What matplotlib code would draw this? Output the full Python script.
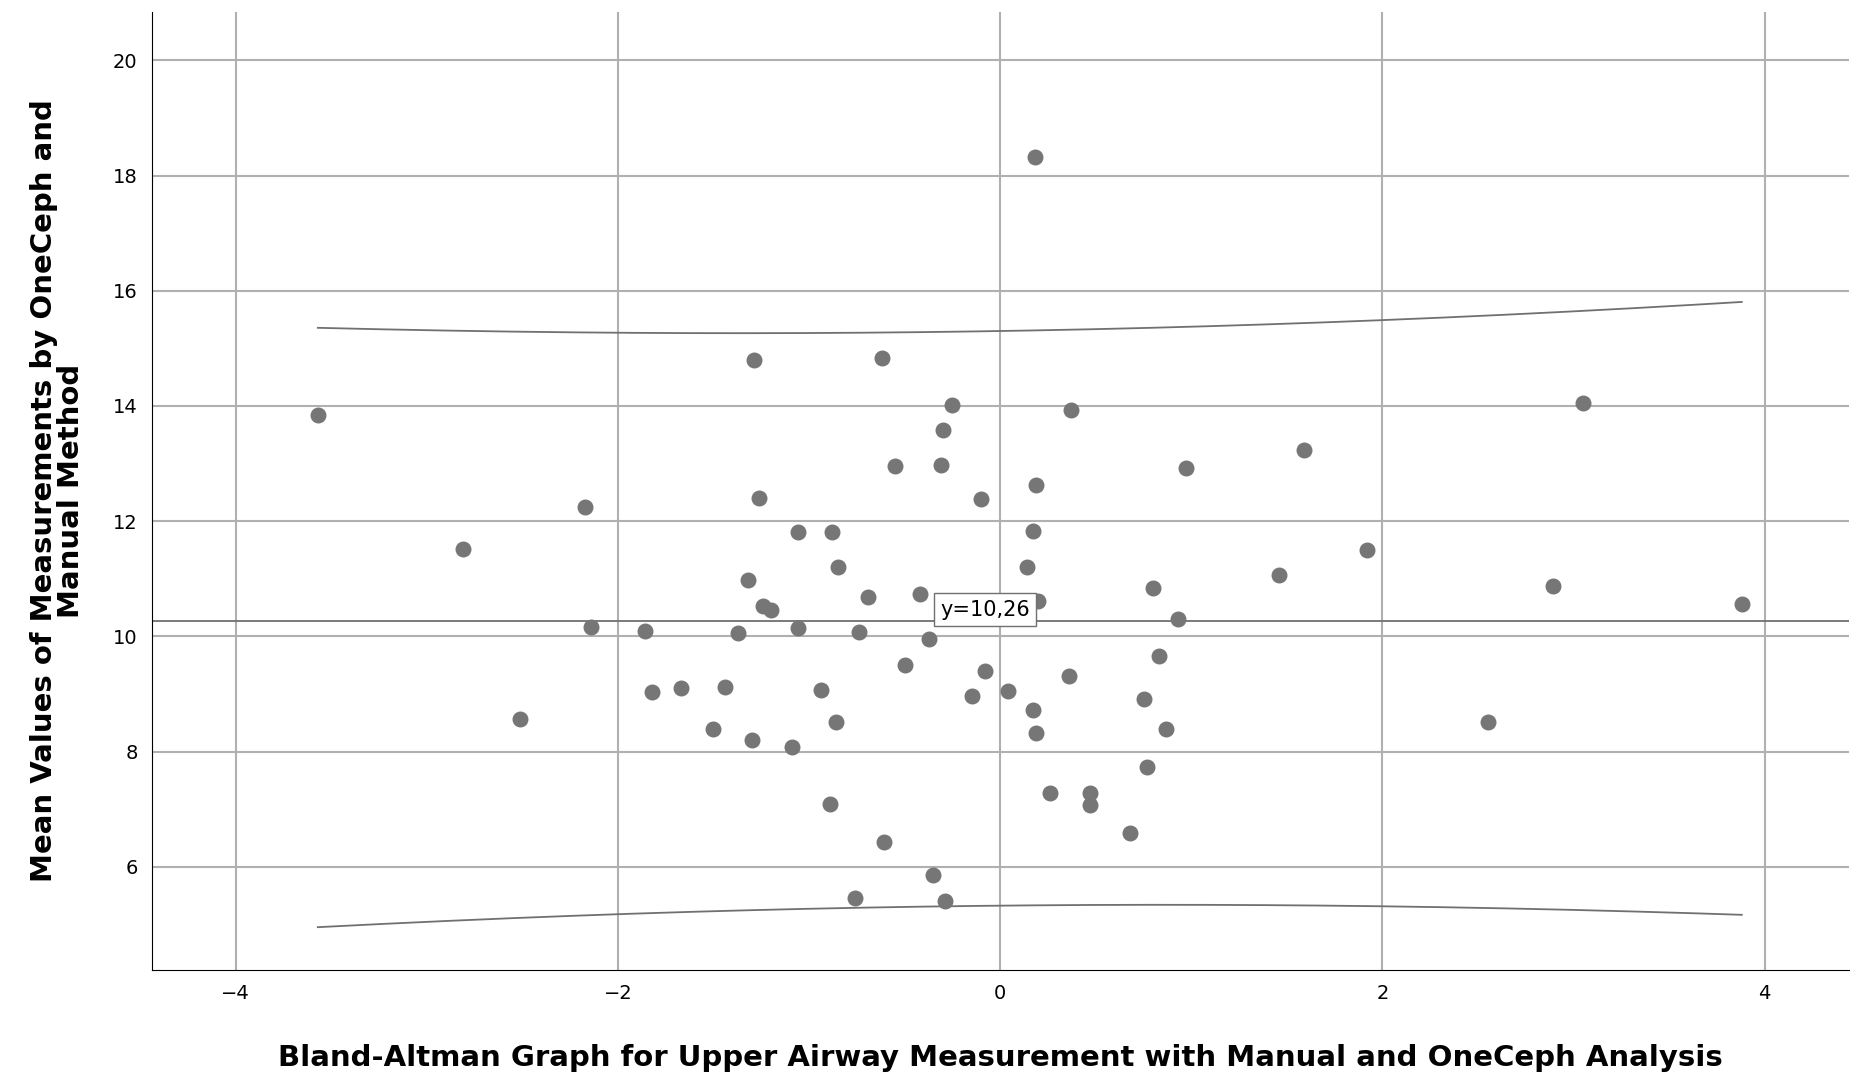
import numpy as np
import matplotlib.pyplot as plt

diff = [-3.57, -2.81, -2.51, -2.17, -2.14, -1.86, -1.82, -1.67, -1.50, -1.44,
        -1.37, -1.32, -1.30, -1.29, -1.26, -1.24, -1.20, -1.09, -1.06, -1.06,
        -0.94, -0.89, -0.88, -0.86, -0.85, -0.76, -0.74, -0.69, -0.62, -0.61,
        -0.55, -0.50, -0.42, -0.37, -0.35, -0.31, -0.30, -0.29, -0.25, -0.15,
        -0.10, -0.08, 0.04, 0.14, 0.17, 0.17, 0.18, 0.19, 0.19, 0.20,
        0.26, 0.36, 0.37, 0.47, 0.47, 0.68, 0.75, 0.77, 0.80, 0.83,
        0.87, 0.93, 0.97, 1.46, 1.59, 1.92, 2.55, 2.89, 3.05, 3.88]
mean = [13.84, 11.52, 8.57, 12.24, 10.16, 10.10, 9.03, 9.11, 8.39, 9.13,
        10.06, 10.98, 8.20, 14.79, 12.40, 10.53, 10.45, 8.08, 11.81, 10.14,
        9.07, 7.09, 11.81, 8.51, 11.21, 5.46, 10.08, 10.69, 14.83, 6.43,
        12.96, 9.50, 10.73, 9.95, 5.86, 12.98, 13.58, 5.40, 14.01, 8.96,
        12.38, 9.40, 9.05, 11.21, 11.83, 8.72, 18.33, 12.63, 8.33, 10.61,
        7.28, 9.31, 13.93, 7.28, 7.07, 6.58, 8.92, 7.73, 10.84, 9.66,
        8.39, 10.30, 12.92, 11.06, 13.23, 11.50, 8.51, 10.88, 14.05, 10.57]
mean_line = 10.26

x = np.array(diff)
y = np.array(mean)

# prediction interval from a linear fit of mean on difference
n = len(x)
b, a = np.polyfit(x, y, 1)
resid = y - (a + b * x)
s = np.sqrt(np.sum(resid ** 2) / (n - 2))
xs = np.linspace(x.min(), x.max(), 200)
se = s * np.sqrt(1 + 1 / n + (xs - x.mean()) ** 2 / np.sum((x - x.mean()) ** 2))
fit = a + b * xs
upper = fit + 1.995 * se
lower = fit - 1.995 * se

fig = plt.figure(figsize=(18.57, 10.91), dpi=100)
ax = fig.add_axes([0.0816, 0.111, 0.914, 0.878])

ax.grid(True, color='#b0b0b0', linewidth=1.5)
ax.set_axisbelow(True)
ax.plot(xs, upper, color='#707070', linewidth=1.3)
ax.plot(xs, lower, color='#707070', linewidth=1.3)
ax.axhline(mean_line, color='#707070', linewidth=1.3)
ax.scatter(x, y, s=110, color='#767676', zorder=3)
ax.text(-0.08, mean_line + 0.03, 'y=10,26', fontsize=15, ha='center', va='bottom',
        bbox=dict(facecolor='white', edgecolor='#707070', boxstyle='square,pad=0.3'), zorder=4)

ax.set_xlim(-4.44, 4.44)
ax.set_ylim(4.21, 20.84)
ax.set_xticks([-4, -2, 0, 2, 4])
ax.set_yticks([6, 8, 10, 12, 14, 16, 18, 20])
ax.tick_params(labelsize=14, length=0, pad=10)
for side in ['top', 'right']:
    ax.spines[side].set_visible(False)
ax.set_xlabel('Bland-Altman Graph for Upper Airway Measurement with Manual and OneCeph Analysis',
              fontsize=21, fontweight='bold', labelpad=30)
ax.set_ylabel('Mean Values of Measurements by OneCeph and\nManual Method',
              fontsize=21, fontweight='bold', labelpad=20, linespacing=0.95)

fig.savefig('out.png', dpi=100)
